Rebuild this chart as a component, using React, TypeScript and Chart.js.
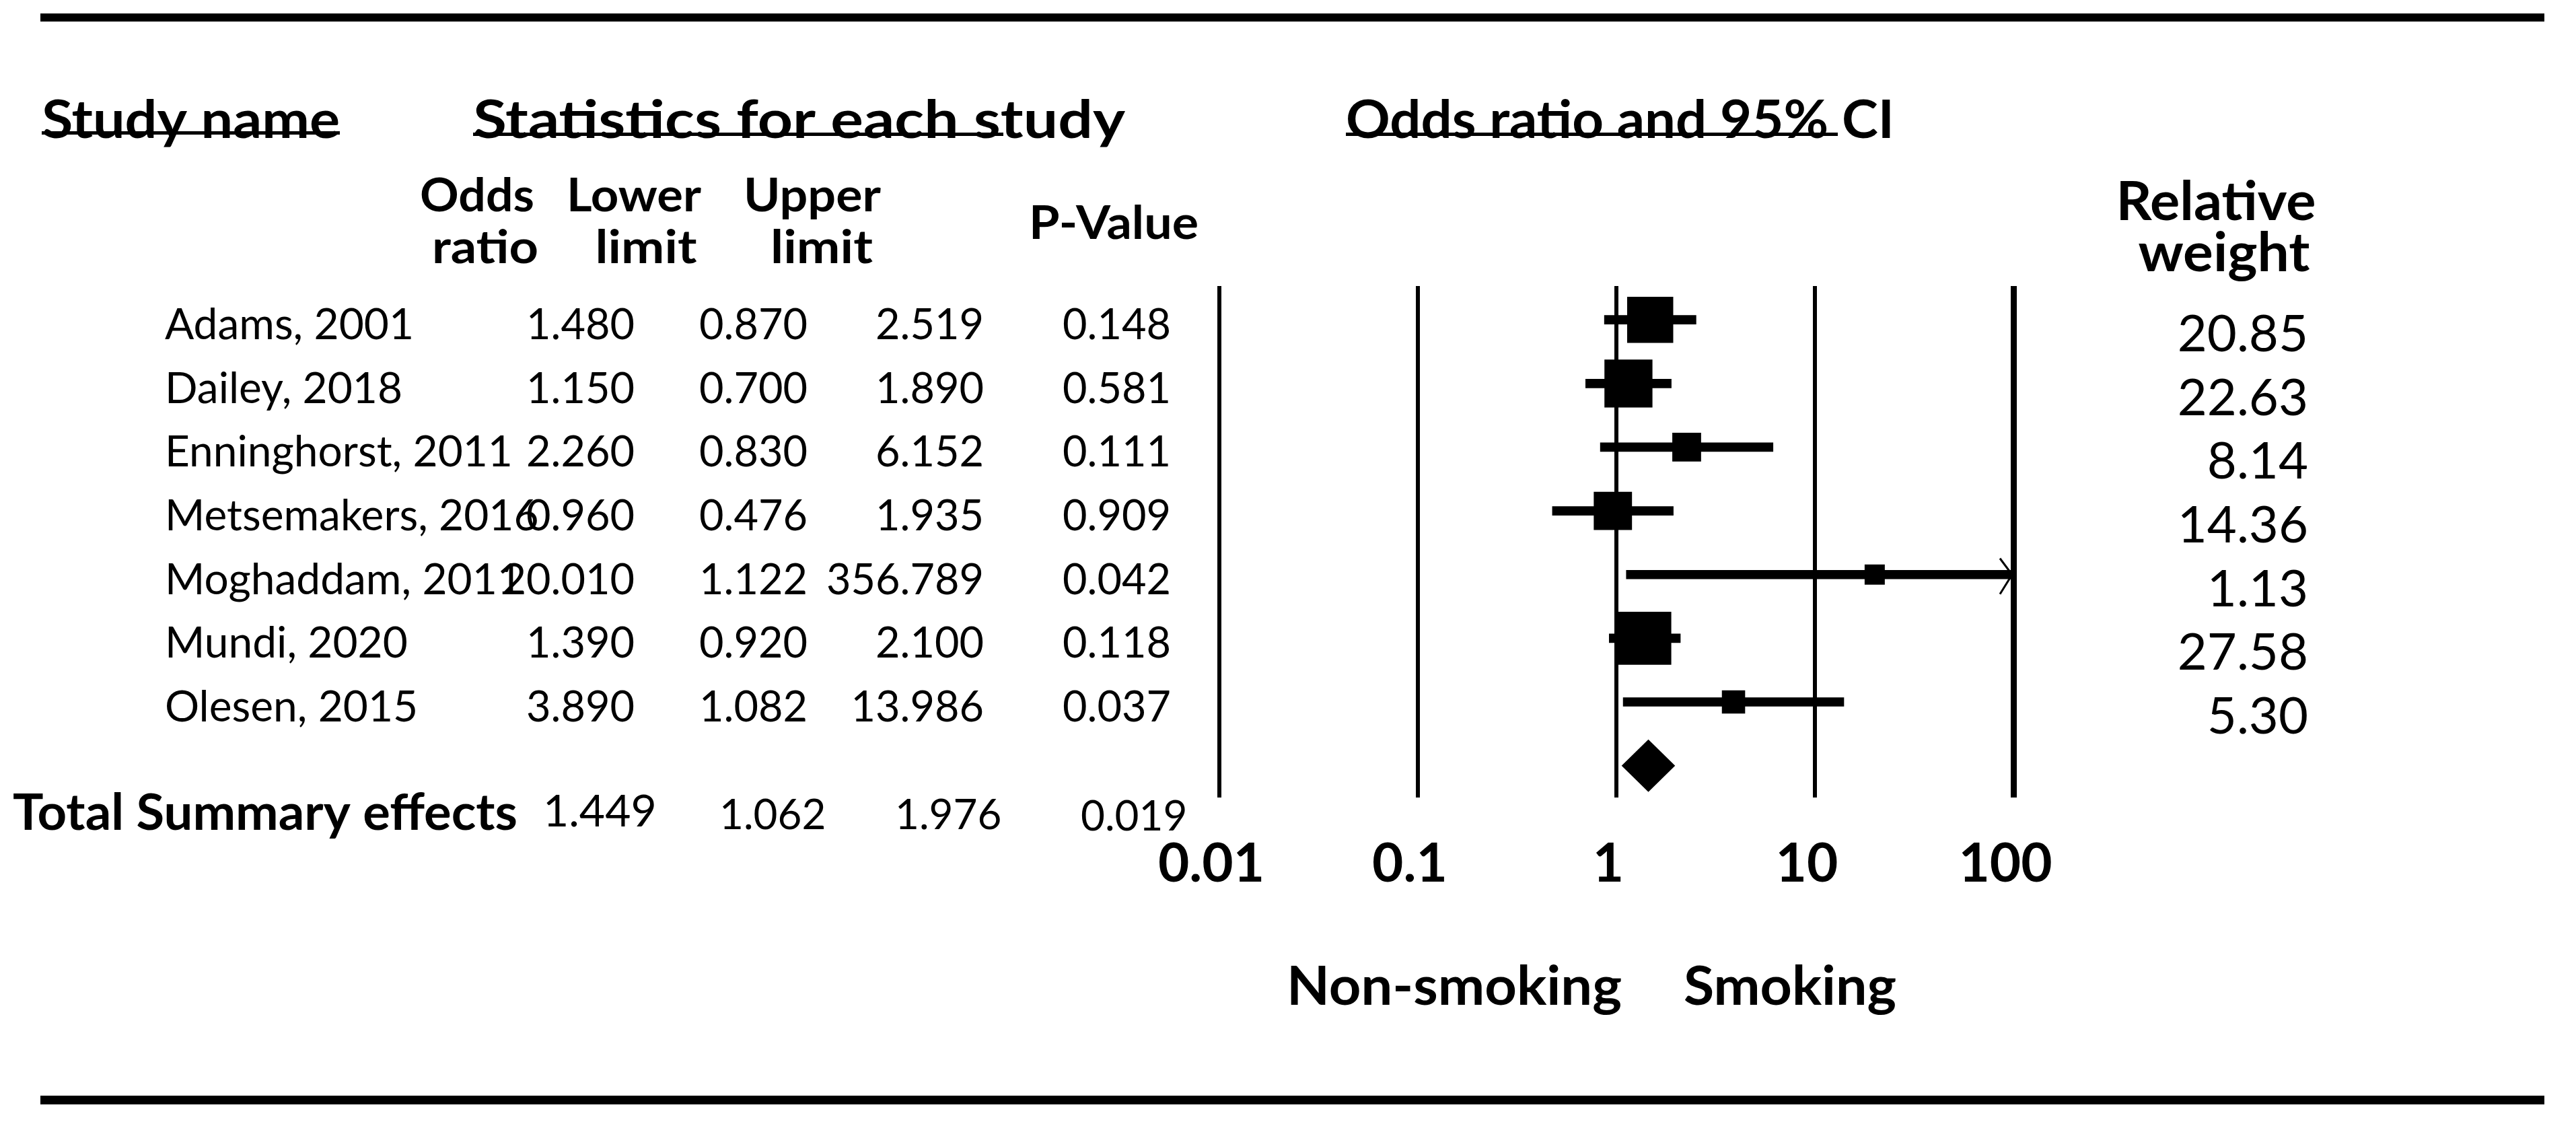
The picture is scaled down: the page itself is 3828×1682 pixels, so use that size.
import React, { useEffect, useRef } from "react";
import { Chart, registerables } from "chart.js";

Chart.register(...registerables);

// ---------- data ----------
const studies = [
  "Adams, 2001",
  "Dailey, 2018",
  "Enninghorst, 2011",
  "Metsemakers, 2016",
  "Moghaddam, 2011",
  "Mundi, 2020",
  "Olesen, 2015",
];
const oddsRatio = [1.48, 1.15, 2.26, 0.96, 20.01, 1.39, 3.89];
const lowerLimit = [0.87, 0.7, 0.83, 0.476, 1.122, 0.92, 1.082];
const upperLimit = [2.519, 1.89, 6.152, 1.935, 356.789, 2.1, 13.986];
const pValues = [0.148, 0.581, 0.111, 0.909, 0.042, 0.118, 0.037];
const relativeWeight = [20.85, 22.63, 8.14, 14.36, 1.13, 27.58, 5.3];
const summaryLabel = "Total Summary effects";
const summaryOR = 1.449;
const summaryLower = 1.062;
const summaryUpper = 1.976;
const summaryP = 0.019;
const xTicks = [0.01, 0.1, 1, 10, 100];
const xTickLabels = ["0.01", "0.1", "1", "10", "100"];

// ---------- layout / style ----------
const W = 3828;
const H = 1682;
const FONT = "Lato";
const gridWidths = [6, 6, 6, 6, 9];

function boxSide(w: number) {
  return Math.max(30, 15 * Math.sqrt(w));
}

function txt(
  ctx: CanvasRenderingContext2D,
  s: string,
  x: number,
  y: number,
  size: number,
  weight: string,
  align: CanvasTextAlign,
  targetW?: number
) {
  ctx.save();
  ctx.font = `${weight} ${size}px ${FONT}`;
  ctx.textAlign = align;
  ctx.textBaseline = "alphabetic";
  ctx.fillStyle = "#000";
  ctx.translate(x, y);
  if (targetW) {
    const w = ctx.measureText(s).width;
    if (w > 0) ctx.scale(targetW / w, 1);
  }
  ctx.fillText(s, 0, 0);
  ctx.restore();
}

const forestPlugin = {
  id: "forestExtras",
  afterDatasetsDraw(chart: any) {
    const ctx: CanvasRenderingContext2D = chart.ctx;
    const xs = chart.scales.x;
    const ys = chart.scales.y;
    ctx.save();
    // summary diamond
    const yD = ys.getPixelForValue(studies.length);
    const xl = xs.getPixelForValue(summaryLower);
    const xr = xs.getPixelForValue(summaryUpper);
    const xc = xs.getPixelForValue(summaryOR);
    ctx.fillStyle = "#000";
    ctx.beginPath();
    ctx.moveTo(xl, yD);
    ctx.lineTo(xc, yD - 39);
    ctx.lineTo(xr, yD);
    ctx.lineTo(xc, yD + 39);
    ctx.closePath();
    ctx.fill();
    // arrows for truncated CIs
    ctx.strokeStyle = "#000";
    ctx.lineWidth = 3;
    upperLimit.forEach((u, i) => {
      if (u > xs.max) {
        const y = ys.getPixelForValue(i);
        const xe = xs.right - 2;
        ctx.beginPath();
        ctx.moveTo(xe - 18, y - 24);
        ctx.lineTo(xe, y);
        ctx.lineTo(xe - 18, y + 29);
        ctx.stroke();
      }
    });
    ctx.restore();
  },
  afterDraw(chart: any) {
    const ctx: CanvasRenderingContext2D = chart.ctx;
    const ys = chart.scales.y;
    ctx.save();
    ctx.fillStyle = "#000";
    // rules
    ctx.fillRect(60, 20, 3721, 12);
    ctx.fillRect(60, 1628, 3721, 13);

    // top headers
    txt(ctx, "Study name", 62, 205, 78, "bold", "left", 443);
    txt(ctx, "Statistics for each study", 703, 205, 78, "bold", "left", 969);
    txt(ctx, "Odds ratio and 95% CI", 2000, 205, 78, "bold", "left", 815);
    ctx.fillStyle = "#000";
    ctx.fillRect(62, 195, 443, 5);
    ctx.fillRect(703, 197, 788, 5);
    ctx.fillRect(2000, 197, 731, 5);

    // column headers
    txt(ctx, "Odds", 709, 314, 68, "bold", "center", 170);
    txt(ctx, "ratio", 721, 391, 68, "bold", "center", 158);
    txt(ctx, "Lower", 942, 314, 68, "bold", "center", 200);
    txt(ctx, "limit", 960, 391, 68, "bold", "center", 151);
    txt(ctx, "Upper", 1207, 314, 68, "bold", "center", 204);
    txt(ctx, "limit", 1221, 391, 68, "bold", "center", 152);
    txt(ctx, "P-Value", 1655, 355, 68, "bold", "center", 252);
    txt(ctx, "Relative", 3293, 327, 80, "bold", "center", 297);
    txt(ctx, "weight", 3305, 403, 80, "bold", "center", 255);

    // rows
    studies.forEach((s, i) => {
      const y = ys.getPixelForValue(i);
      txt(ctx, s, 245, y + 29, 64, "normal", "left");
      txt(ctx, oddsRatio[i].toFixed(3), 943, y + 29, 63, "normal", "right");
      txt(ctx, lowerLimit[i].toFixed(3), 1200, y + 29, 63, "normal", "right");
      txt(ctx, upperLimit[i].toFixed(3), 1462, y + 29, 63, "normal", "right");
      txt(ctx, pValues[i].toFixed(3), 1740, y + 29, 63, "normal", "right");
      txt(ctx, relativeWeight[i].toFixed(2), 3430, y + 47, 76, "normal", "right");
    });

    // summary row
    txt(ctx, summaryLabel, 19, 1233, 74, "bold", "left", 750);
    txt(ctx, summaryOR.toFixed(3), 807, 1228, 66, "normal", "left");
    txt(ctx, summaryLower.toFixed(3), 1069, 1232, 62, "normal", "left");
    txt(ctx, summaryUpper.toFixed(3), 1330, 1232, 62, "normal", "left");
    txt(ctx, summaryP.toFixed(3), 1606, 1234, 62, "normal", "left");

    // direction labels
    txt(ctx, "Non-smoking", 1912, 1493, 80, "bold", "left", 498);
    txt(ctx, "Smoking", 2502, 1493, 80, "bold", "left", 316);
    ctx.restore();
  },
};

export default function App() {
  const ref = useRef<HTMLCanvasElement>(null);
  useEffect(() => {
    document.body.style.margin = "0";
    const canvas = ref.current;
    if (!canvas) return;
    const chart = new Chart(canvas, {
      type: "scatter",
      data: {
        datasets: [
          {
            type: "bar",
            indexAxis: "y",
            data: studies.map((_, i) => ({ x: [lowerLimit[i], upperLimit[i]], y: i })),
            backgroundColor: "#000",
            borderWidth: 0,
            barThickness: 13,
            clip: 0,
          } as any,
          {
            type: "scatter",
            data: studies.map((_, i) => ({ x: oddsRatio[i], y: i })),
            pointStyle: "rect",
            pointRadius: (c: any) => boxSide(relativeWeight[c.dataIndex]) / Math.SQRT2,
            backgroundColor: "#000",
            borderWidth: 0,
          } as any,
        ],
      },
      options: {
        responsive: false,
        animation: false,
        devicePixelRatio: 1,
        events: [],
        layout: { padding: { left: 1812, right: 836, top: 425, bottom: 297 } },
        plugins: { legend: { display: false }, tooltip: { enabled: false } },
        scales: {
          x: {
            type: "logarithmic",
            position: "bottom",
            min: 0.01,
            max: 100,
            beginAtZero: false,
            afterBuildTicks: (s: any) => {
              s.ticks = xTicks.map((v) => ({ value: v }));
            },
            afterFit: (s: any) => {
              s.height = 200;
            },
            grid: {
              color: "#000",
              lineWidth: (c: any) => gridWidths[c.index] ?? 6,
              drawTicks: false,
              offset: false,
            },
            border: { display: false },
            ticks: {
              callback: (_v: any, i: number) => xTickLabels[i],
              font: { family: FONT, size: 80, weight: "bold" },
              color: "#000",
              padding: 51,
              labelOffset: -12,
              maxRotation: 0,
              autoSkip: false,
            },
          } as any,
          y: {
            type: "linear",
            reverse: true,
            min: -0.53,
            max: 7.5,
            display: false,
            offset: false,
            grid: { offset: false },
          } as any,
        },
      },
      plugins: [forestPlugin],
    } as any);
    return () => chart.destroy();
  }, []);
  return (
    <div style={{ position: "absolute", left: 0, top: 0, width: W, height: H, background: "#fff" }}>
      <canvas ref={ref} width={W} height={H} style={{ display: "block", width: W, height: H }} />
    </div>
  );
}
